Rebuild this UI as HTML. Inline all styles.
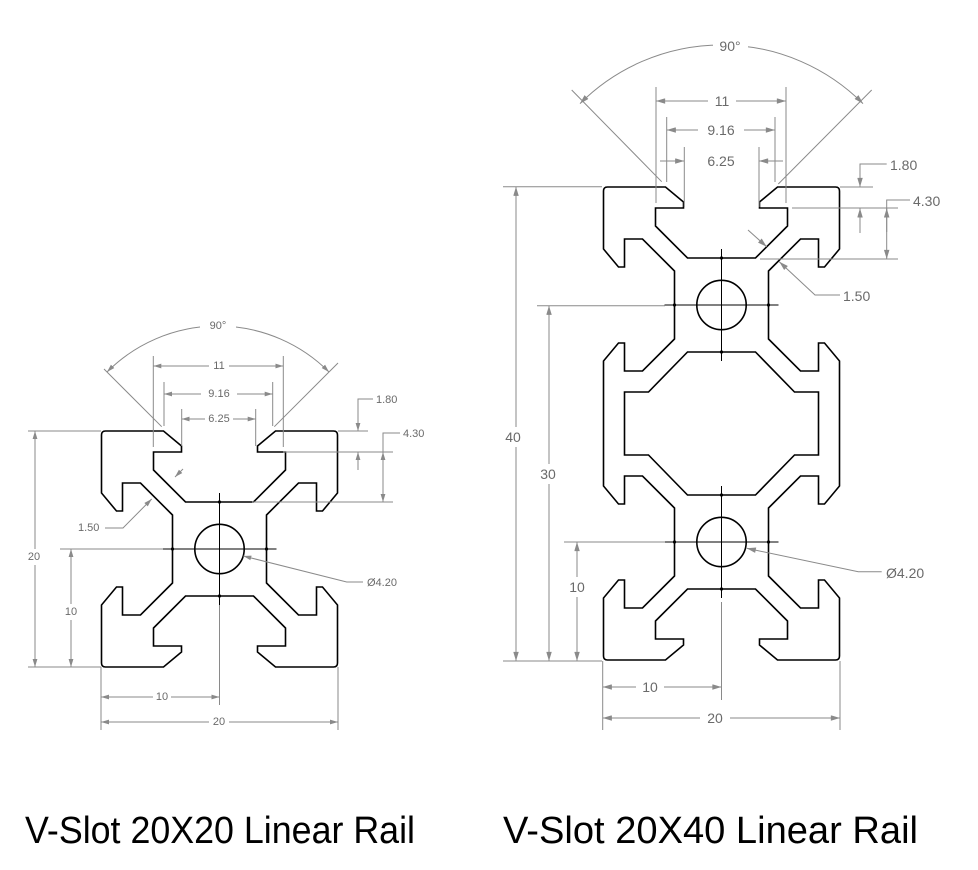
<!DOCTYPE html>
<html><head><meta charset="utf-8"><style>
html,body{margin:0;padding:0;background:#fff}
svg{display:block}
.d{stroke:#8a8a8a;stroke-width:1;fill:none}
.p{stroke:#000;stroke-width:1.6;fill:none;stroke-linejoin:miter}
.c{stroke:#000;stroke-width:1;fill:none}
.t{font-family:"Liberation Sans",sans-serif;fill:#6a6a6a;dominant-baseline:central}
.s{font-size:11px}
.m{font-size:14px}
</style></head><body>
<svg width="978" height="870" viewBox="0 0 978 870" xmlns="http://www.w3.org/2000/svg">
<defs>
<marker id="a" viewBox="0 0 10 6" refX="10" refY="3" markerWidth="8" markerHeight="5" markerUnits="userSpaceOnUse" orient="auto-start-reverse"><path d="M0,0L10,3L0,6z" fill="#8a8a8a"/></marker>
<marker id="b" viewBox="0 0 10 6" refX="10" refY="3" markerWidth="11" markerHeight="5.5" markerUnits="userSpaceOnUse" orient="auto-start-reverse"><path d="M0,0L10,3L0,6z" fill="#8a8a8a"/></marker>
</defs>

<!-- 20x20 profile -->
<g transform="translate(219.5,549)">
<path class="p" d="M-118,-114 Q-118,-118 -114,-118 L-56,-118 L-38,-103 L-38,-97 L-66,-97 L-66,-79 L-34,-47 L34,-47 L66,-79 L66,-97 L38,-97 L38,-103 L56,-118 L114,-118 Q118,-118 118,-114 L118,-56 L103,-38 L97,-38 L97,-66 L79,-66 L47,-34 L47,34 L79,66 L97,66 L97,38 L103,38 L118,56 L118,114 Q118,118 114,118 L56,118 L38,103 L38,97 L66,97 L66,79 L34,47 L-34,47 L-66,79 L-66,97 L-38,97 L-38,103 L-56,118 L-114,118 Q-118,118 -118,114 L-118,56 L-103,38 L-97,38 L-97,66 L-79,66 L-47,34 L-47,-34 L-79,-66 L-97,-66 L-97,-38 L-103,-38 L-118,-56 Z"/>
<circle class="p" cx="0" cy="0" r="24.7"/>
<path class="c" d="M0,-56V56M-57,0H57"/>
<circle cx="0" cy="-47" r="1.6"/><circle cx="0" cy="47" r="1.6"/><circle cx="-47" cy="0" r="1.6"/><circle cx="47" cy="0" r="1.6"/>
</g>

<!-- 20x40 profile -->
<g transform="translate(721.5,305)">
<path class="p" d="M-118,-114 Q-118,-118 -114,-118 L-56,-118 L-38,-103 L-38,-97 L-66,-97 L-66,-79 L-34,-47 L34,-47 L66,-79 L66,-97 L38,-97 L38,-103 L56,-118 L114,-118 Q118,-118 118,-114 L118,-56 L103,-38 L97,-38 L97,-66 L79,-66 L47,-34 L47,34 L79,66 L97,66 L97,38 L103,38 L118,56 L118,181 L103,199 L97,199 L97,171 L79,171 L47,203 L47,271 L79,303 L97,303 L97,275 L103,275 L118,293 L118,351 Q118,355 114,355 L56,355 L38,340 L38,334 L66,334 L66,316 L34,284 L-34,284 L-66,316 L-66,334 L-38,334 L-38,340 L-56,355 L-114,355 Q-118,355 -118,351 L-118,293 L-103,275 L-97,275 L-97,303 L-79,303 L-47,271 L-47,203 L-79,171 L-97,171 L-97,199 L-103,199 L-118,181 L-118,56 L-103,38 L-97,38 L-97,66 L-79,66 L-47,34 L-47,-34 L-79,-66 L-97,-66 L-97,-38 L-103,-38 L-118,-56 Z"/>
<path class="p" d="M-97,87 L-73,87 L-34,47 L34,47 L73,87 L97,87 L97,150 L73,150 L34,190 L-34,190 L-73,150 L-97,150 Z"/>
<circle class="p" cx="0" cy="0" r="24.7"/>
<circle class="p" cx="0" cy="237" r="24.7"/>
<path class="c" d="M0,-56V56M-57,0H57M0,181V293M-57,237H57"/>
<circle cx="0" cy="-47" r="1.6"/><circle cx="0" cy="47" r="1.6"/><circle cx="-47" cy="0" r="1.6"/><circle cx="47" cy="0" r="1.6"/>
<circle cx="0" cy="190" r="1.6"/><circle cx="0" cy="284" r="1.6"/><circle cx="-47" cy="237" r="1.6"/><circle cx="47" cy="237" r="1.6"/>
</g>

<!-- 20x20 dimensions -->
<g>
<path class="d" d="M28,431H101M28,667H101M60,549H163M101,667V730M338,667V730M219.5,605V705"/>
<line class="d" x1="35" y1="431" x2="35" y2="667" marker-start="url(#a)" marker-end="url(#a)"/>
<line class="d" x1="71" y1="549" x2="71" y2="667" marker-start="url(#a)" marker-end="url(#a)"/>
<line class="d" x1="101" y1="697" x2="219.5" y2="697" marker-start="url(#a)" marker-end="url(#a)"/>
<line class="d" x1="101" y1="722" x2="338" y2="722" marker-start="url(#a)" marker-end="url(#a)"/>
<path class="d" d="M153.3,356V447M283.3,356V447M164,382V426M272.7,382V426M181.7,409V446M255.7,409V446"/>
<line class="d" x1="153.3" y1="366" x2="283.3" y2="366" marker-start="url(#a)" marker-end="url(#a)"/>
<line class="d" x1="164" y1="394" x2="272.7" y2="394" marker-start="url(#a)" marker-end="url(#a)"/>
<line class="d" x1="205" y1="419" x2="181.7" y2="419" marker-end="url(#a)"/>
<line class="d" x1="233" y1="419" x2="255.7" y2="419" marker-end="url(#a)"/>
<path class="d" d="M107,372 A157,157 0 0 1 329,372" marker-start="url(#a)" marker-end="url(#a)"/>
<path class="d" d="M161.7,426.7L104,369M274.3,426.7L338,363"/>
<polyline class="d" points="373,399 358,399 358,431" marker-end="url(#a)"/>
<line class="d" x1="358" y1="470" x2="358" y2="452" marker-end="url(#a)"/>
<path class="d" d="M338,431H368M283,452H393M252,502H393"/>
<polyline class="d" points="400,433 383,433 383,502" marker-end="url(#a)"/>
<line class="d" x1="383" y1="470" x2="383" y2="452" marker-end="url(#a)"/>
<polyline class="d" points="105,528 123,528 151.7,499" marker-end="url(#a)"/>
<line class="d" x1="183" y1="469" x2="175" y2="477" marker-end="url(#a)"/>
<polyline class="d" points="363,582 346.7,582 243.3,556" marker-end="url(#a)"/>
<g fill="#fff">
<rect x="27" y="549" width="16" height="16"/><rect x="63" y="604" width="16" height="16"/>
<rect x="153" y="690" width="18" height="14"/><rect x="209" y="715" width="20" height="14"/>
<rect x="209" y="359" width="20" height="14"/><rect x="201" y="387" width="36" height="14"/>
<rect x="200" y="318" width="36" height="14"/>
</g>
<g class="t s" text-anchor="middle">
<text x="34" y="557">20</text><text x="71" y="612">10</text>
<text x="162" y="697">10</text><text x="219" y="722">20</text>
<text x="219" y="366">11</text><text x="219" y="394">9.16</text><text x="219" y="419">6.25</text>
<text x="218" y="326">90°</text>
</g>
<g class="t s">
<text x="376" y="400">1.80</text><text x="403" y="434">4.30</text>
<text x="78" y="528">1.50</text><text x="367" y="583">Ø4.20</text>
</g>
</g>

<!-- 20x40 dimensions -->
<g>
<path class="d" d="M503,186.7H602M503,661H602M537,305.7H665M564,542H665M602.7,661V730M840,661V730M721.5,602V700"/>
<line class="d" x1="516" y1="186.7" x2="516" y2="661" marker-start="url(#b)" marker-end="url(#b)"/>
<line class="d" x1="549" y1="305.7" x2="549" y2="661" marker-start="url(#b)" marker-end="url(#b)"/>
<line class="d" x1="577" y1="542" x2="577" y2="661" marker-start="url(#b)" marker-end="url(#b)"/>
<line class="d" x1="602.7" y1="687" x2="721.5" y2="687" marker-start="url(#b)" marker-end="url(#b)"/>
<line class="d" x1="602.7" y1="718" x2="840" y2="718" marker-start="url(#b)" marker-end="url(#b)"/>
<path class="d" d="M656,87V203M786,87V203M666.7,117V182M775,117V182M684.3,147V207M759,147V207"/>
<line class="d" x1="656" y1="101" x2="786" y2="101" marker-start="url(#b)" marker-end="url(#b)"/>
<line class="d" x1="666.7" y1="130" x2="775" y2="130" marker-start="url(#b)" marker-end="url(#b)"/>
<line class="d" x1="660" y1="161" x2="684.3" y2="161" marker-end="url(#b)"/>
<line class="d" x1="783" y1="161" x2="759" y2="161" marker-end="url(#b)"/>
<path class="d" d="M580,103.6 A200,200 0 0 1 863,103.6" marker-start="url(#b)" marker-end="url(#b)"/>
<path class="d" d="M661.7,181.7L571.7,90M778.3,184L871.7,90"/>
<polyline class="d" points="886.7,164 860,164 860,187" marker-end="url(#b)"/>
<line class="d" x1="860" y1="233" x2="860" y2="208.3" marker-end="url(#b)"/>
<path class="d" d="M840,187H873M792,208H898M760,259H898"/>
<polyline class="d" points="910,200 886.7,200 886.7,259" marker-end="url(#b)"/>
<line class="d" x1="886.7" y1="232" x2="886.7" y2="208.3" marker-end="url(#b)"/>
<line class="d" x1="748" y1="230" x2="766.7" y2="246.7" marker-end="url(#b)"/>
<polyline class="d" points="840,295 815,295 779.3,261.7" marker-end="url(#b)"/>
<polyline class="d" points="881.7,571.7 858.3,571.7 746.7,548.3" marker-end="url(#b)"/>
<g fill="#fff">
<rect x="503" y="427" width="22" height="20"/><rect x="537" y="464" width="22" height="20"/>
<rect x="567" y="577" width="22" height="20"/><rect x="636" y="678" width="28" height="18"/>
<rect x="700" y="709" width="30" height="18"/><rect x="708" y="92" width="28" height="18"/>
<rect x="698" y="121" width="46" height="18"/><rect x="713" y="36" width="35" height="20"/>
</g>
<g class="t m" text-anchor="middle">
<text x="513" y="437">40</text><text x="548" y="474">30</text><text x="577" y="587">10</text>
<text x="650" y="687">10</text><text x="715" y="718">20</text>
<text x="722" y="101">11</text><text x="721" y="130">9.16</text><text x="721" y="161">6.25</text>
<text x="730" y="46">90°</text>
</g>
<g class="t m">
<text x="890" y="165">1.80</text><text x="913" y="201">4.30</text>
<text x="843" y="296">1.50</text><text x="886" y="573">Ø4.20</text>
</g>
</g>

<!-- titles -->
<g font-family="'Liberation Sans',sans-serif" font-size="38" fill="#000">
<text x="25" y="843" textLength="390" lengthAdjust="spacingAndGlyphs">V-Slot 20X20 Linear Rail</text>
<text x="503" y="843" textLength="415" lengthAdjust="spacingAndGlyphs">V-Slot 20X40 Linear Rail</text>
</g>
</svg>
</body></html>
